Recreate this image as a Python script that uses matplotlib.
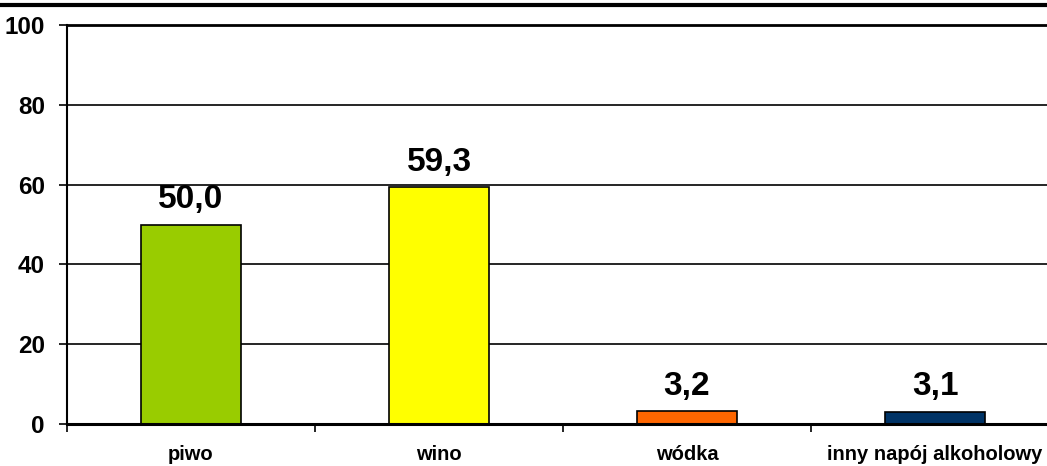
import matplotlib
matplotlib.use("Agg")
import matplotlib.pyplot as plt
from matplotlib.lines import Line2D

categories = ["piwo", "wino", "wódka", "inny napój alkoholowy"]
values = [50.0, 59.3, 3.2, 3.1]
value_labels = ["50,0", "59,3", "3,2", "3,1"]
colors = ["#99CC00", "#FFFF00", "#FF6600", "#003366"]
yticks = [0, 20, 40, 60, 80, 100]

plt.rcParams['font.family'] = ['Liberation Sans', 'DejaVu Sans']
plt.rcParams['font.weight'] = 'bold'

W, H = 1047, 466
fig = plt.figure(figsize=(W / 100, H / 100), dpi=100)
ax = fig.add_axes([67 / W, (H - 424) / H, (1059 - 67) / W, (424 - 25) / H])

x = list(range(len(categories)))
ax.bar(x, values, width=0.4, color=colors, edgecolor='black', linewidth=1.2, zorder=3)

ax.set_xlim(-0.5, len(categories) - 0.5)
ax.set_ylim(0, 100)
ax.set_yticks(yticks)
ax.set_yticklabels([str(v) for v in yticks], fontsize=17.5, fontweight='bold')
ax.yaxis.grid(True, color='black', linewidth=1.2, zorder=0)
ax.tick_params(axis='y', length=6, width=1.2, pad=10, direction='out')

ax.set_xticks(x)
ax.set_xticklabels(categories, fontsize=14.5, fontweight='bold')
ax.tick_params(axis='x', which='major', length=0, pad=15)
ax.set_xticks([i - 0.5 for i in range(len(categories))], minor=True)
ax.tick_params(axis='x', which='minor', length=6, width=1.2, direction='out')

for s in ['top', 'right']:
    ax.spines[s].set_visible(False)
ax.spines['left'].set_linewidth(1.5)
ax.spines['bottom'].set_linewidth(2.2)
ax.spines['bottom'].set_zorder(4)

for xi, v, lab in zip(x, values, value_labels):
    ax.annotate(lab, (xi, v), xytext=(0, 12), textcoords='offset points',
                ha='center', va='baseline', fontsize=24, fontweight='bold')

# top line (top edge of cut-off frame)
fig.add_artist(Line2D([0, 1], [1 - 4.5 / H, 1 - 4.5 / H], transform=fig.transFigure,
                      color='black', linewidth=3))
# thicker line at 100
ax.axhline(100, color='black', linewidth=2, clip_on=False, zorder=2)

fig.savefig("out.png", dpi=100)
